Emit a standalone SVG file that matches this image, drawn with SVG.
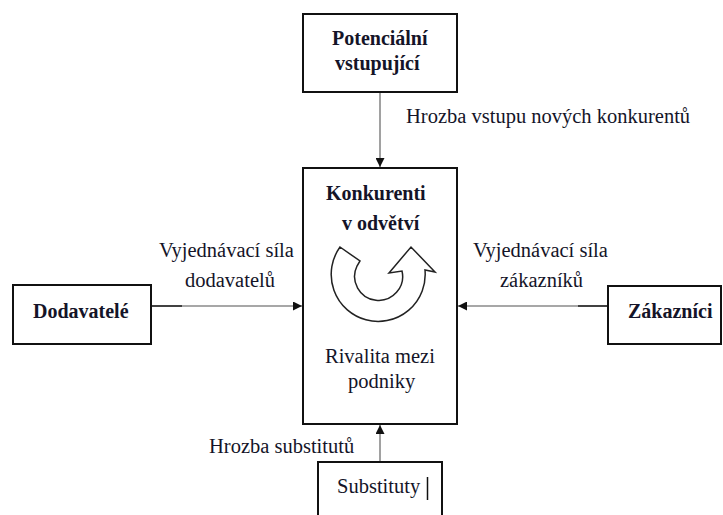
<svg xmlns="http://www.w3.org/2000/svg" width="723" height="515" viewBox="0 0 723 515">
  <style>
    text { font-family: serif; fill: #141428; font-size: 20.5px; }
    .b { font-weight: bold; font-size: 20px; }
    .box { fill: #fff; stroke: #111; stroke-width: 2; }
    .wire { stroke: #8a8a8a; stroke-width: 1.6; fill: none; }
    .wire-dark { stroke: #111; stroke-width: 1.6; fill: none; }
  </style>
  <defs>
    <marker id="tip" viewBox="0 0 10 10" refX="10" refY="5" markerWidth="9" markerHeight="9" markerUnits="userSpaceOnUse" orient="auto">
      <path d="M0,0 L10,5 L0,10 Z" fill="#111"/>
    </marker>
  </defs>
  <rect width="723" height="515" fill="#fff"/>

  <!-- connectors and their labels -->
  <g id="connectors">
    <line class="wire" x1="380" y1="92" x2="380" y2="167" marker-end="url(#tip)"/>
    <line class="wire" x1="182" y1="306" x2="302" y2="306" marker-end="url(#tip)"/>
    <line class="wire" x1="578" y1="306" x2="458" y2="306" marker-end="url(#tip)"/>
    <line class="wire" x1="380" y1="462" x2="380" y2="425" marker-end="url(#tip)"/>
    <line class="wire-dark" x1="151" y1="306" x2="182" y2="306"/>
    <line class="wire-dark" x1="608" y1="306" x2="578" y2="306"/>
    <text x="406" y="123" font-family="serif">Hrozba vstupu nových konkurentů</text>
    <text x="159" y="257" font-family="serif">Vyjednávací síla</text>
    <text x="185" y="287" font-family="serif">dodavatelů</text>
    <text x="473" y="257" font-family="serif">Vyjednávací síla</text>
    <text x="500" y="287" font-family="serif">zákazníků</text>
    <text x="209" y="453" font-family="serif">Hrozba substitutů</text>
  </g>

  <!-- potential entrants -->
  <g id="entrants">
    <rect class="box" x="303" y="14" width="154" height="78"/>
    <text class="b" x="332" y="45" font-family="serif">Potenciální</text>
    <text class="b" x="335" y="70" font-family="serif">vstupující</text>
  </g>

  <!-- industry competitors -->
  <g id="rivalry">
    <rect class="box" x="303" y="168" width="154" height="256"/>
    <text class="b" x="326" y="200" font-family="serif">Konkurenti</text>
    <text class="b" x="342" y="230" font-family="serif">v odvětví</text>
    <!-- U-turn arrow -->
    <path d="M340,247 L360,261 L357,266 A24,24 0 1 0 402,271 L389,273 L411,247 L435,272 L425,270 A47,47 0 1 1 340,247 Z" fill="#fff" stroke="#222" stroke-width="1.5"/>
    <text x="325" y="363" font-family="serif">Rivalita mezi</text>
    <text x="348" y="388" font-family="serif">podniky</text>
  </g>

  <!-- suppliers -->
  <g id="suppliers">
    <rect class="box" x="13" y="285" width="138" height="59"/>
    <text class="b" x="33" y="318" font-family="serif">Dodavatelé</text>
  </g>

  <!-- buyers -->
  <g id="buyers">
    <rect class="box" x="608" y="286" width="113" height="58"/>
    <text class="b" x="628" y="318" font-family="serif">Zákazníci</text>
  </g>

  <!-- substitutes -->
  <g id="substitutes">
    <rect class="box" x="318" y="462" width="124" height="70"/>
    <text x="337" y="493" font-family="serif">Substituty</text>
    <line x1="427.5" y1="477" x2="427.5" y2="500" stroke="#111" stroke-width="1.5"/>
  </g>
</svg>
